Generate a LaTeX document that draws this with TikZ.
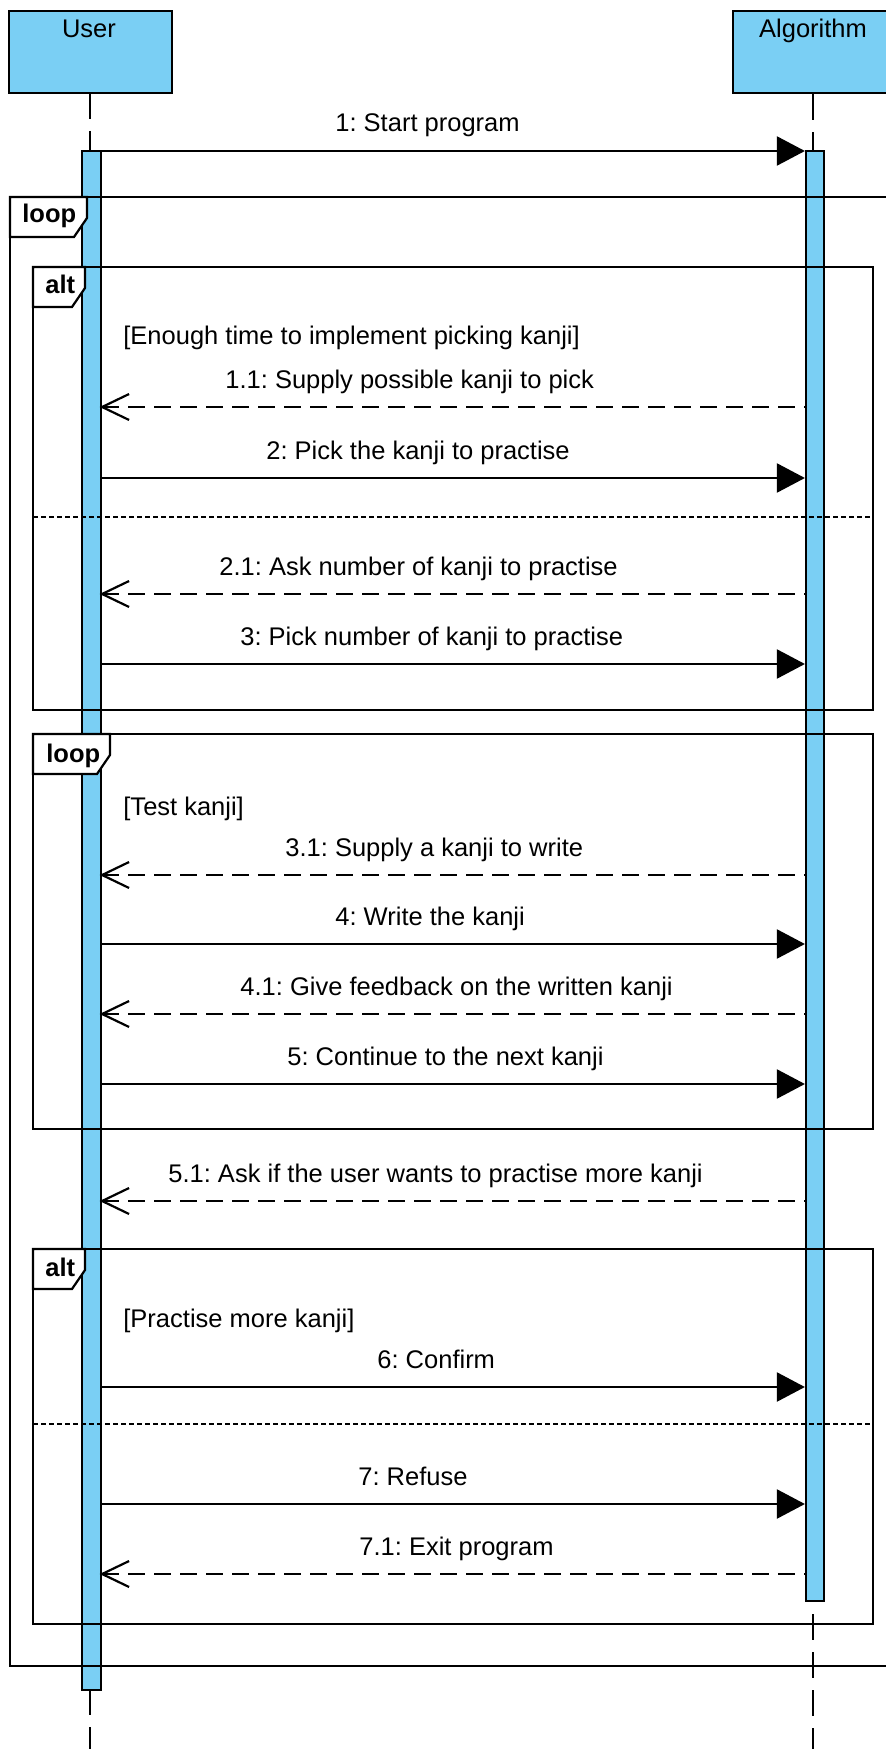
\documentclass[tikz,border=0pt]{standalone}
\usepackage{fontspec}
\setmainfont{Liberation Sans}
\usetikzlibrary{arrows.meta}
\definecolor{actfill}{RGB}{122,207,244}
\frenchspacing
\begin{document}
\begin{tikzpicture}[x=0.5pt,y=-0.5pt,
  font=\fontsize{12.75}{15}\selectfont,
  lifebox/.style={draw, line width=1.1pt, fill=actfill, inner sep=0},
  lifeline/.style={line width=1.1pt, dash pattern=on 13pt off 6pt},
  bar/.style={draw, line width=1.1pt, fill=actfill, inner sep=0},
  frame/.style={draw, line width=1.1pt},
  fraglabel/.style={draw, fill=white, line width=1.1pt},
  sep/.style={line width=1.1pt, dash pattern=on 2.5pt off 1.5pt},
  call/.style={line width=1.1pt, -{Triangle[length=14pt,width=14.5pt]}},
  reply/.style={line width=1.1pt, dash pattern=on 8.5pt off 4.5pt},
  barb/.style={line width=1.1pt, line join=miter},
  lbl/.style={anchor=base west, inner sep=0},
  tag/.style={anchor=base west, inner sep=0,
    font=\fontsize{12.75}{15}\selectfont\bfseries},
]
\useasboundingbox (0,0) rectangle (885,1749);

% participants
\node[lifebox, minimum width=81.5pt, minimum height=41pt] (user) at (90.5,52) {};
\node[anchor=base, inner sep=0] (usertxt) at (89,38) {User};
\node[lifebox, minimum width=80pt, minimum height=41pt] (algo) at (813,52) {};
\node[anchor=base, inner sep=0] (algotxt) at (813,38) {Algorithm};

% lifelines
\coordinate (bottom) at (0,1760);
\draw[lifeline] (90,93) -- (90,1760);
\draw[lifeline] (algo.south) -- (algo.south |- bottom);

% activation bars
\node[bar, minimum width=9.5pt, minimum height=769.5pt] (ubar) at (91.5,920.5) {};
\node[bar, minimum width=9pt, minimum height=725pt] (abar) at (815,876) {};

% combined fragments: frame, name tab, operand separator
\draw[frame] (10,197) rectangle (900,1666);
\draw[fraglabel] (10,197) -- (10,237) -- (74,237) -- (87,218) -- (87,197) -- cycle;
\node[tag] (tloop1) at (22,223) {loop};

\draw[frame] (33,267) rectangle (873,710);
\draw[fraglabel] (33,267) -- (33,307) -- (72,307) -- (85,288) -- (85,267) -- cycle;
\node[tag] (talt1) at (45,294) {alt};
\draw[sep] (33,517) -- (873,517);

\draw[frame] (33,734) rectangle (873,1129);
\draw[fraglabel] (33,734) -- (33,774) -- (97,774) -- (110,755) -- (110,734) -- cycle;
\node[tag] (tloop2) at (46,762) {loop};

\draw[frame] (33,1249) rectangle (873,1624);
\draw[fraglabel] (33,1249) -- (33,1289) -- (72,1289) -- (85,1270) -- (85,1249) -- cycle;
\node[tag] (talt2) at (45,1276) {alt};
\draw[sep] (33,1424) -- (873,1424);

% guards
\node[lbl] (g1) at (123,344) {[Enough time to implement picking kanji]};
\node[lbl] (g2) at (123,815) {[Test kanji]};
\node[lbl] (g3) at (123,1327) {[Practise more kanji]};

% synchronous calls
\foreach \y/\lx/\txt in {
  151/335/{1: Start program},
  478/266/{2: Pick the kanji to practise},
  664/240/{3: Pick number of kanji to practise},
  944/335/{4: Write the kanji},
  1084/287/{5: Continue to the next kanji},
  1387/377/{6: Confirm},
  1504/358/{7: Refuse}}{
  \coordinate (m) at (0,\y);
  \draw[call] (ubar.east |- m) -- (abar.west |- m);
  \node[lbl] at (\lx,\y-19) {\txt};
}

% replies, with an open V head at the user's bar
\foreach \y/\lx/\txt in {
  407/225/{1.1: Supply possible kanji to pick},
  594/219/{2.1: Ask number of kanji to practise},
  875/285/{3.1: Supply a kanji to write},
  1014/240/{4.1: Give feedback on the written kanji},
  1201/168/{5.1: Ask if the user wants to practise more kanji},
  1574/359/{7.1: Exit program}}{
  \coordinate (m) at (0,\y);
  \draw[reply] (ubar.east |- m) -- (abar.west |- m);
  \draw[barb] (ubar.east |- m) ++(27,-13) -- ++(-27,13) -- ++(27,13);
  \node[lbl] at (\lx,\y-19) {\txt};
}
\end{tikzpicture}
\end{document}
